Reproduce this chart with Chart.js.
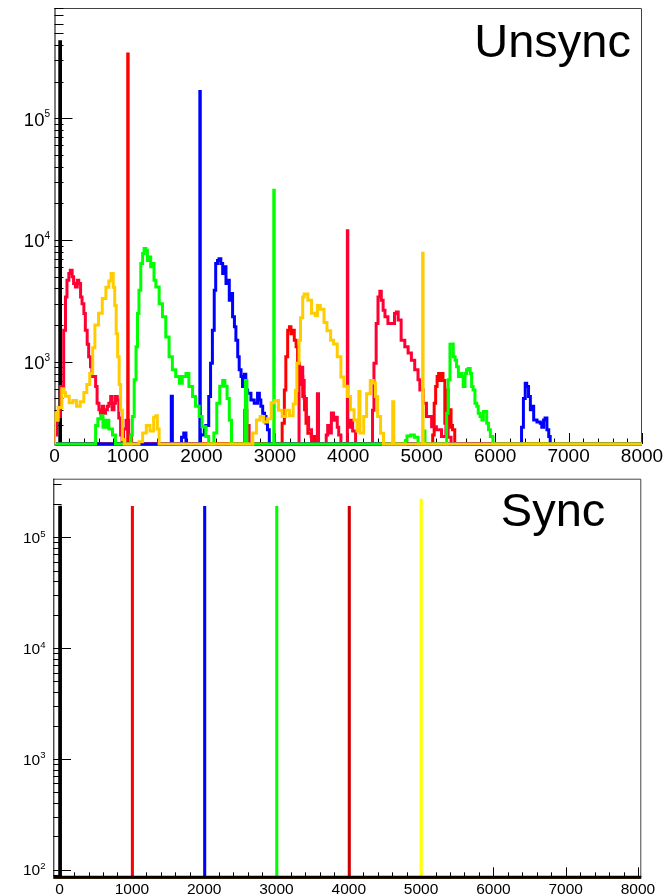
<!DOCTYPE html>
<html><head><meta charset="utf-8">
<script src="https://cdn.jsdelivr.net/npm/chart.js@4.4.1/dist/chart.umd.min.js"></script>
<style>
html,body{margin:0;padding:0;background:#fff;width:672px;height:896px;overflow:hidden}
#top{position:absolute;left:0;top:0}
#bot{position:absolute;left:0;top:470px}
</style></head><body>
<canvas id="top" width="672" height="470"></canvas>
<canvas id="bot" width="672" height="426"></canvas>
<script>
// ---------- DATA: [binLowEdge, counts] pairs (counts hold until next edge) ----------
const titleTop = 'Unsync';
const titleBottom = 'Sync';

const unsyncBlack = [[72,426000],[82,0]];
const unsyncRed = [
 [997,337000],[1003,0],
 [3100,313],[3130,587],[3150,1100],[3175,1818],[3200,1940],[3220,1700],[3245,1818],[3265,1500],[3290,1330],[3310,971],[3335,666],[3360,755],[3380,517],[3405,403],[3425,313],[3450,259],[3495,243],[3540,0],
 [5150,250],[5170,456],[5190,626],[5210,755],[5230,800],[5250,700],[5270,800],[5290,700],[5315,313],[5335,587],[5360,290],[5380,403],[5400,300],[5420,276],[5450,0]
];
const unsyncBlue = [
 [1590,520],[1605,0],
 [1730,240],[1760,260],[1790,0],
 [1979,166000],[1985,250],[2040,276],[2060,300],[2100,517],[2125,971],[2150,1818],[2175,3870],[2195,6400],[2220,6800],[2240,7030],[2265,6400],[2290,5300],[2310,6020],[2335,4390],[2355,4670],[2380,3200],[2400,3630],[2425,2340],[2450,1940],[2470,1500],[2495,1100],[2515,860],[2540,755],[2560,626],[2585,790],[2605,587],[2630,550],[2675,485],[2720,456],[2765,550],[2790,485],[2810,430],[2835,378],[2860,355],[2880,313],[2900,276],[2925,0],
 [6360,290],[6385,500],[6410,666],[6430,626],[6455,517],[6480,403],[6500,430],[6525,333],[6570,320],[6615,313],[6635,290],[6660,333],[6680,345],[6705,276],[6730,243],[6750,0]
];
const unsyncGreen = [
 [560,300],[590,340],[630,360],[660,290],[700,330],[740,280],[790,250],[830,0],
 [1040,250],[1060,355],[1085,710],[1110,1330],[1130,2490],[1150,3870],[1175,6400],[1200,7730],[1220,8500],[1245,8230],[1265,6800],[1290,7260],[1310,6020],[1335,6400],[1355,4670],[1380,4120],[1425,3000],[1470,2340],[1515,1600],[1560,1100],[1605,860],[1650,755],[1700,666],[1740,755],[1790,800],[1830,626],[1880,517],[1920,430],[1970,355],[2010,293],[2060,243],[2100,0],
 [2170,260],[2210,456],[2250,630],[2290,700],[2320,630],[2350,500],[2380,330],[2410,0],
 [2600,700],[2620,0],
 [2986,25600],[2992,0],
 [4780,225],[4800,245],[4850,250],[4900,240],[4950,0],
 [5030,270],[5045,0],
 [5340,378],[5360,710],[5385,1390],[5410,1400],[5430,1100],[5455,1030],[5475,910],[5500,755],[5520,800],[5545,755],[5565,626],[5590,800],[5610,860],[5635,880],[5660,800],[5680,626],[5700,587],[5725,456],[5750,430],[5770,378],[5795,355],[5820,333],[5840,390],[5885,313],[5910,276],[5935,243],[5970,0]
];
const unsyncCrimson = [
 [0,250],[30,355],[80,626],[125,1818],[150,3410],[170,4670],[195,5300],[215,5640],[240,5000],[260,4390],[285,4120],[310,4670],[330,4390],[355,3410],[375,3000],[400,2490],[420,1818],[445,1390],[465,1100],[490,910],[510,755],[535,755],[560,626],[580,456],[605,403],[625,378],[650,430],[670,378],[695,403],[720,430],[740,456],[765,517],[785,403],[810,456],[830,517],[855,485],[875,345],[900,250],[920,0],
 [940,280],[975,330],[1010,250],[1050,0],
 [2590,400],[2620,300],[2650,0],
 [3330,650],[3360,900],[3380,700],[3400,500],[3430,350],[3460,276],[3500,0],
 [3580,545],[3595,0],
 [3700,250],[3720,300],[3750,260],[3770,380],[3800,330],[3830,350],[3850,290],[3870,250],[3900,0],
 [3988,11900],[3994,290],[4030,330],[4060,270],[4100,0],
 [4330,400],[4350,970],[4380,2060],[4405,3410],[4430,3800],[4450,3200],[4475,2650],[4500,2340],[4540,2060],[4590,2060],[4630,2490],[4655,2560],[4680,2200],[4720,1500],[4770,1330],[4815,1180],[4860,1030],[4905,860],[4950,710],[4975,587],[5020,456],[5065,355],[5135,293],[5200,276],[5270,243],[5330,300],[5360,240],[5400,0]
];
const unsyncGold = [
 [0,380],[25,330],[50,420],[100,600],[130,560],[150,520],[200,460],[250,480],[300,430],[350,470],[400,560],[440,650],[480,800],[520,1300],[550,2000],[600,2500],[650,3300],[700,4100],[740,4600],[770,5300],[800,4100],[820,2900],[840,1700],[860,1100],[880,650],[900,400],[925,230],[950,0],
 [1150,220],[1200,260],[1250,300],[1300,270],[1350,350],[1380,360],[1400,280],[1425,0],
 [2700,260],[2750,333],[2800,355],[2850,320],[2900,340],[2950,460],[3000,480],[3050,400],[3100,355],[3150,400],[3200,360],[3250,450],[3280,580],[3300,970],[3330,1500],[3350,2300],[3380,3400],[3400,3600],[3450,3200],[3500,2500],[3550,2400],[3580,2900],[3620,2700],[3670,2100],[3710,1800],[3760,1500],[3800,1400],[3850,1100],[3900,750],[3940,630],[3990,517],[4030,403],[4080,333],[4120,270],[4145,570],[4160,260],[4210,355],[4250,545],[4300,700],[4340,670],[4370,517],[4400,355],[4440,259],[4480,0],
 [4605,470],[4620,0],
 [5013,7800],[5019,0]
];

const syncBlack   = [[2,187000],[12,0]];
const syncRed     = [[1003,187000],[1011,0]];
const syncBlue    = [[2003,187000],[2011,0]];
const syncGreen   = [[3000,187000],[3008,0]];
const syncDarkRed = [[4003,187000],[4011,0]];
const syncYellow  = [[4998,217000],[5006,0]];

// ---------- helpers ----------
function toPoints(pairs, xmin, xmax, ymin){
  const pts=[{x:xmin,y:ymin}];
  for(const [x,v] of pairs) pts.push({x:x,y:Math.max(v,ymin)});
  pts.push({x:xmax,y:ymin});
  return pts;
}
function ds(pairs,color,xmin,xmax,ymin,w){
  return {data:toPoints(pairs,xmin,xmax,ymin),borderColor:color,backgroundColor:color,
    borderWidth:w||3,stepped:true,pointRadius:0,fill:false,tension:0,
    borderJoinStyle:'miter',borderCapStyle:'butt',clip:{left:0,top:0,right:0,bottom:2}};
}

const rootAxes = {
  id:'rootAxes',
  beforeDatasetsDraw(chart,args,o){
    const {ctx,chartArea:a,scales:{x,y}}=chart;
    ctx.save();
    ctx.lineWidth=1;
    ctx.strokeStyle='#444';
    ctx.beginPath();
    ctx.moveTo(a.left,a.top+0.5);ctx.lineTo(a.right-0.5,a.top+0.5);ctx.lineTo(a.right-0.5,a.bottom);
    ctx.stroke();
    ctx.strokeStyle='#000';
    ctx.beginPath();
    ctx.moveTo(a.left+0.5,a.top);ctx.lineTo(a.left+0.5,a.bottom);ctx.lineTo(a.right,a.bottom-0.5);
    ctx.stroke();
    ctx.beginPath();
    for(const t of y.ticks){
      const py=Math.round(y.getPixelForValue(t.value))+0.5;
      const lg=Math.log10(t.value), maj=Math.abs(lg-Math.round(lg))<1e-9;
      ctx.moveTo(a.left,py);ctx.lineTo(a.left+(maj?o.yMajor:o.yMinor),py);
    }
    for(const t of x.ticks){
      const px=Math.round(x.getPixelForValue(t.value))+0.5;
      const maj=t.value%1000===0;
      ctx.moveTo(px,a.bottom);ctx.lineTo(px,a.bottom-(maj?o.xMajor:o.xMinor));
    }
    ctx.stroke();
    ctx.restore();
  },
  afterDatasetsDraw(chart,args,o){
    const {ctx,chartArea:a,scales:{x,y}}=chart;
    ctx.save();
    ctx.fillStyle='#000';
    ctx.font=o.fs+'px "Liberation Sans", Arial, sans-serif';
    ctx.textAlign='center';ctx.textBaseline='middle';
    for(const t of x.ticks){
      if(t.value%1000!==0) continue;
      ctx.fillText(String(t.value),x.getPixelForValue(t.value),o.xLabelY);
    }
    for(const t of y.ticks){
      const lg=Math.log10(t.value), n=Math.round(lg);
      if(Math.abs(lg-n)>1e-9) continue;
      const py=y.getPixelForValue(t.value);
      ctx.font=o.supFs+'px "Liberation Sans", Arial, sans-serif';
      ctx.textAlign='right';ctx.textBaseline='alphabetic';
      const sw=ctx.measureText(String(n)).width;
      ctx.fillText(String(n),o.yRight,py+o.supDy);
      ctx.font=o.yFs+'px "Liberation Sans", Arial, sans-serif';
      ctx.textBaseline='middle';
      ctx.fillText('10',o.yRight-sw,py+o.yLabDy);
    }
    ctx.font=o.titleFs+'px "Liberation Sans", Arial, sans-serif';
    ctx.textAlign='right';ctx.textBaseline='alphabetic';
    ctx.fillText(o.title,o.titleX,o.titleY);
    ctx.restore();
  }
};

function makeChart(id,datasets,cfg){
  return new Chart(document.getElementById(id),{
    type:'line',
    data:{datasets:datasets},
    options:{
      responsive:false,animation:false,devicePixelRatio:1,
      layout:{padding:{top:cfg.padTop,right:cfg.padRight,left:0,bottom:0}},
      plugins:{legend:{display:false},tooltip:{enabled:false},rootAxes:cfg.axes},
      scales:{
        x:{type:'linear',min:cfg.xmin,max:cfg.xmax,
          grid:{display:false},border:{display:false},ticks:{display:false},
          afterBuildTicks:s=>{const t=[];for(let v=0;v<=8000;v+=200){if(v>=s.min&&v<=s.max)t.push({value:v});}s.ticks=t;},
          afterFit:s=>{s.height=cfg.xAxisH;}},
        y:{type:'logarithmic',min:cfg.ymin,max:cfg.ymax,
          grid:{display:false},border:{display:false},ticks:{display:false},
          afterBuildTicks:s=>{const t=[];for(let e=0;e<=7;e++)for(let k=1;k<=9;k++){const v=k*Math.pow(10,e);if(v>=s.min&&v<=s.max)t.push({value:v});}s.ticks=t;},
          afterFit:s=>{s.width=cfg.yAxisW;}}
      }
    },
    plugins:[rootAxes]
  });
}

// ---------- top panel ----------
const T={xmin:0,xmax:8000,ymin:211,ymax:805000};
makeChart('top',[
  ds(unsyncGold,'#ffcc00',T.xmin,T.xmax,T.ymin),
  ds(unsyncGreen,'#00ff00',T.xmin,T.xmax,T.ymin),
  ds(unsyncBlue,'#0000ff',T.xmin,T.xmax,T.ymin),
  ds(unsyncCrimson,'#ff0033',T.xmin,T.xmax,T.ymin),
  ds(unsyncRed,'#ff0000',T.xmin,T.xmax,T.ymin),
  ds(unsyncBlack,'#000000',T.xmin,T.xmax,T.ymin,3)
],{...T,padTop:8,padRight:30,xAxisH:26,yAxisW:54.5,
  axes:{fs:19,yFs:18.5,supFs:10,xLabelY:457,yRight:50,yLabDy:2.2,supDy:-1,
        yMajor:18,yMinor:9,xMajor:11,xMinor:5.5,title:titleTop,titleFs:47,titleX:631,titleY:56.7}});

// ---------- bottom panel ----------
const B={xmin:-87,xmax:8046,ymin:85.4,ymax:338000};
makeChart('bot',[
  ds(syncBlack,'#000000',B.xmin,B.xmax,B.ymin,3),
  ds(syncDarkRed,'#cc0000',B.xmin,B.xmax,B.ymin,2.5),
  ds(syncYellow,'#ffff00',B.xmin,B.xmax,B.ymin,2.5),
  ds(syncGreen,'#00ff00',B.xmin,B.xmax,B.ymin,2.5),
  ds(syncBlue,'#0000ff',B.xmin,B.xmax,B.ymin,2.5),
  ds(syncRed,'#ff0000',B.xmin,B.xmax,B.ymin,2.5)
],{...B,padTop:8.7,padRight:30.7,xAxisH:18.7,yAxisW:53.3,
  axes:{fs:15.5,yFs:15.5,supFs:9.5,xLabelY:420,yRight:45.5,yLabDy:1.4,supDy:-0.6,
        yMajor:17.7,yMinor:8.3,xMajor:10,xMinor:5,title:titleBottom,titleFs:47,titleX:605.3,titleY:56}});
</script></body></html>
